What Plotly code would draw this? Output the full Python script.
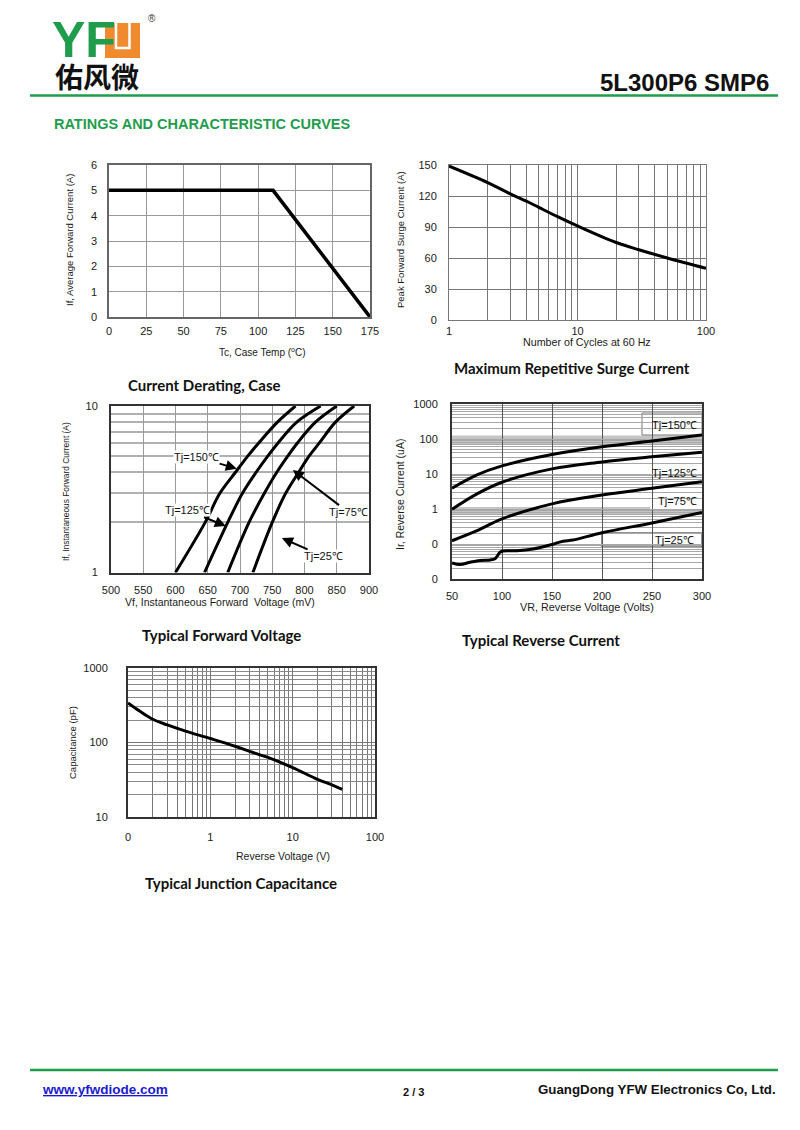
import math
import plotly.graph_objects as go

# page offset (the browser places the figure 8px from the top-left corner)
OFF = 8
FW, FH = 784, 1114
def px(x): return (x - OFF) / FW
def py(y): return 1 - (y - OFF) / FH

# ---------------- data ----------------
derate_temp = [0, 110, 175]
derate_current = [5, 5, 0]

surge_cycles = [1, 2, 3, 4, 5, 7, 10, 20, 30, 50, 100]
surge_current = [149, 133, 122, 115, 109, 100, 91, 75, 68, 60, 50]

fwd_current = [1, 2, 3, 4, 5, 6, 8, 10]
fwd_vf_150 = [600, 646, 669, 693, 712, 729, 758, 786]
fwd_vf_125 = [645, 681, 704, 725, 743, 759, 788, 825]
fwd_vf_75 = [681, 714, 738, 757, 774, 789, 817, 850]
fwd_vf_25 = [720, 750, 771, 791, 807, 823, 848, 877]

rev_voltage = [50, 75, 100, 150, 200, 250, 300]
rev_ir_150 = [3.9, 9.4, 17, 36, 60, 88, 130]
rev_ir_125 = [0.98, 2.7, 5.8, 14, 22, 31, 42]
rev_ir_75 = [0.124, 0.24, 0.52, 1.4, 2.5, 3.9, 6.0]
rev_voltage_25 = [50, 58, 68, 78, 88, 93, 98, 101, 115, 131, 150, 161, 171, 200, 250, 300]
rev_ir_25 = [0.029, 0.026, 0.030, 0.034, 0.035, 0.038, 0.058, 0.063, 0.064, 0.072,
             0.097, 0.12, 0.13, 0.21, 0.40, 0.79]

cap_voltage = [0.1, 0.14, 0.2, 0.3, 0.5, 1, 2, 3, 5, 10, 20, 30, 40]
cap_pf = [340, 262, 205, 172, 142, 113, 89, 76, 63, 46, 32, 27, 23.5]

derate_xticks = [0, 25, 50, 75, 100, 125, 150, 175]
derate_yticks = [0, 1, 2, 3, 4, 5, 6]
surge_xticks = [1, 10, 100]
surge_yticks = [0, 30, 60, 90, 120, 150]
fwd_xticks = [500, 550, 600, 650, 700, 750, 800, 850, 900]
fwd_yticks = [1, 10]
rev_xticks = [50, 100, 150, 200, 250, 300]
rev_yticks = [0.01, 0.1, 1, 10, 100, 1000]
rev_yticktext = ["0", "0", "1", "10", "100", "1000"]
cap_xticks = [0.1, 1, 10, 100]
cap_xticktext = ["0", "1", "10", "100"]
cap_yticks = [10, 100, 1000]

# ---------------- styling ----------------
ARIAL = "Liberation Sans, Arial, sans-serif"
TF = dict(family=ARIAL, size=11, color="#1a1a1a")
GREEN = "#1f9d4c"

def minor_log(lo, hi):
    return [k * 10 ** d for d in range(lo, hi) for k in range(2, 10)]

def ax(domain, anchor, **kw):
    d = dict(domain=domain, anchor=anchor, showline=True, mirror=True, automargin=False,
             linecolor="#333", linewidth=2, showgrid=True, gridcolor="#8a8a8a",
             gridwidth=1, zeroline=False, ticks="", tickfont=TF, fixedrange=True)
    d.update(kw)
    return d

fig = go.Figure()

def add(x, y, n, shape="spline", width=3):
    fig.add_trace(go.Scatter(x=x, y=y, xaxis="x%s" % n, yaxis="y%s" % n, mode="lines",
                             line=dict(color="black", width=width, shape=shape),
                             showlegend=False, hoverinfo="skip"))

add(derate_temp, derate_current, "", shape="linear", width=3.5)
add(surge_cycles, surge_current, 2)
add(fwd_vf_150, fwd_current, 3)
add(fwd_vf_125, fwd_current, 3)
add(fwd_vf_75, fwd_current, 3)
add(fwd_vf_25, fwd_current, 3)
add(rev_voltage, rev_ir_150, 4)
add(rev_voltage, rev_ir_125, 4)
add(rev_voltage, rev_ir_75, 4)
add(rev_voltage_25, rev_ir_25, 4)
add(cap_voltage, cap_pf, 5)

layout = dict(
    width=FW, height=FH, autosize=False,
    margin=dict(l=0, r=0, t=0, b=0, pad=0, autoexpand=False),
    paper_bgcolor="white", plot_bgcolor="white",
    showlegend=False,
    xaxis=ax([px(109), px(370)], "y", range=[0, 175], tickvals=derate_xticks,
             linecolor="#666", linewidth=1.5, gridcolor="#999", ticklabelstandoff=3),
    yaxis=ax([py(317), py(165)], "x", range=[0, 6], tickvals=derate_yticks,
             linecolor="#666", linewidth=1.5, gridcolor="#999", ticklabelstandoff=8),
    xaxis2=ax([px(449), px(706)], "y2", type="log", range=[0, 2], tickvals=surge_xticks,
              linecolor="#777", linewidth=1, gridcolor="#777", ticklabelstandoff=1,
              minor=dict(tickvals=minor_log(0, 2), showgrid=True, gridcolor="#777",
                         gridwidth=1, ticks="")),
    yaxis2=ax([py(320), py(165)], "x2", range=[0, 150], tickvals=surge_yticks,
              linecolor="#777", linewidth=1, gridcolor="#777", ticklabelstandoff=9),
    xaxis3=ax([px(111), px(369)], "y3", range=[500, 900], tickvals=fwd_xticks,
              gridcolor="#9a9a9a", ticklabelstandoff=6),
    yaxis3=ax([py(572.5), py(406)], "x3", type="log", range=[0, 1], tickvals=fwd_yticks,
              ticklabelstandoff=9,
              minor=dict(tickvals=minor_log(0, 1), showgrid=True, gridcolor="#b0b0b0",
                         gridwidth=2, ticks="")),
    xaxis4=ax([px(452), px(702)], "y4", range=[50, 300], tickvals=rev_xticks,
              gridcolor="#555", ticklabelstandoff=6),
    yaxis4=ax([py(579), py(404)], "x4", type="log", range=[-2, 3], tickvals=rev_yticks,
              ticktext=rev_yticktext, ticklabelstandoff=10, gridcolor="#a8a8a8",
              minor=dict(tickvals=minor_log(-2, 3), showgrid=True, gridcolor="#a8a8a8",
                         gridwidth=1, ticks="")),
    xaxis5=ax([px(128), px(375)], "y5", type="log", range=[-1, 2], tickvals=cap_xticks,
              ticktext=cap_xticktext, gridcolor="#777", ticklabelstandoff=9,
              minor=dict(tickvals=minor_log(-1, 2), showgrid=True, gridcolor="#777",
                         gridwidth=1, ticks="")),
    yaxis5=ax([py(817), py(668)], "x5", type="log", range=[1, 3], tickvals=cap_yticks,
              gridcolor="#777", ticklabelstandoff=16,
              minor=dict(tickvals=minor_log(1, 3), showgrid=True, gridcolor="#8a8a8a",
                         gridwidth=1, ticks="")),
)
fig.update_layout(**layout)

ann = []
shapes = []

def text(x, y, t, size=11, color="#1a1a1a", family=ARIAL, xanchor="center",
         yanchor="middle", angle=0, weight="normal", **kw):
    a = dict(x=px(x), y=py(y), xref="paper", yref="paper", text=t, showarrow=False,
             font=dict(family=family, size=size, color=color, weight=weight),
             xanchor=xanchor, yanchor=yanchor, textangle=angle)
    a.update(kw)
    ann.append(a)

# ---------------- header ----------------
text(51, 40, "YF", size=50, color=GREEN,
     family="Liberation Sans Narrow, Arial Narrow, Liberation Sans, Arial",
     xanchor="left", weight="bold", height=38, valign="middle", borderpad=0)
shapes.append(dict(type="rect", xref="paper", yref="paper", x0=px(105), x1=px(140),
                   y0=py(58), y1=py(23), fillcolor="#ef8a2e", line=dict(width=0)))
shapes.append(dict(type="path", xref="paper", yref="paper",
                   path="M %f %f L %f %f L %f %f L %f %f" % (px(116), py(23), px(116), py(48),
                                                         px(129.5), py(48), px(129.5), py(23)),
                   line=dict(color="white", width=2.5)))
text(152, 18, "®", size=10, color="#333")
text(97, 76, "佑风微", size=28, color="#111", family="Noto Sans CJK SC", weight="bold",
     height=30, valign="middle", borderpad=0)
text(771, 83, "5L300P6 SMP6", size=24, color="#111", xanchor="right", weight="bold")
shapes.append(dict(type="line", xref="paper", yref="paper", x0=px(30), x1=px(778),
                   y0=py(95.5), y1=py(95.5), line=dict(color=GREEN, width=2.5)))
text(52, 124, "RATINGS AND CHARACTERISTIC CURVES", size=14.5, color=GREEN,
     xanchor="left", weight="bold")

# ---------------- footer ----------------
shapes.append(dict(type="line", xref="paper", yref="paper", x0=px(30), x1=px(778),
                   y0=py(1070), y1=py(1070), line=dict(color=GREEN, width=2.5)))
text(40, 1089, "<u>www.yfwdiode.com</u>", size=13.5, color="#1a1acc", xanchor="left",
     weight="bold")
text(413, 1092, "2 / 3", size=11, color="#111", weight="bold")
text(778, 1089, "GuangDong YFW Electronics Co, Ltd.", size=13.3, color="#111",
     xanchor="right", weight="bold")

# ---------------- axis titles ----------------
text(262, 352, "Tc, Case Temp (<sup>o</sup>C)", size=10)
text(70, 240, "If, Average Forward Current (A)", size=9.5, angle=-90)
text(587, 342, "Number of Cycles at 60 Hz", size=10.7)
text(401, 240, "Peak Forward Surge Current (A)", size=9.5, angle=-90)
text(220, 602, "Vf, Instantaneous Forward  Voltage (mV)", size=10.5)
text(66, 492, "If, Instantaneous Forward Current (A)", size=8.4, angle=-90)
text(587, 607, "VR, Reverse Voltage (Volts)", size=10.8)
text(400, 495, "Ir, Reverse Current (uA)", size=10.5, angle=-90)
text(283, 856, "Reverse Voltage (V)", size=10.5)
text(73, 743, "Capacitance (pF)", size=9.5, angle=-90)

# ---------------- captions ----------------
CAP = "Lato, Open Sans, sans-serif"
text(204, 385, "Current Derating, Case", size=15, family=CAP, weight="bold", color="#111")
text(572, 368, "Maximum Repetitive Surge Current", size=15, family=CAP, weight="bold", color="#111")
text(221, 635, "Typical Forward Voltage", size=15, family=CAP, weight="bold", color="#111")
text(541, 640, "Typical Reverse Current", size=15, family=CAP, weight="bold", color="#111")
text(241, 883, "Typical Junction Capacitance", size=15, family=CAP, weight="bold", color="#111")

# ---------------- forward-voltage labels with arrows ----------------
L = math.log10

def alabel(xh, yh, xt, yt, t, n):
    ann.append(dict(x=xh, y=L(yh), ax=xt, ay=L(yt), xref="x%d" % n, yref="y%d" % n,
                    axref="x%d" % n, ayref="y%d" % n, text=t, showarrow=True,
                    arrowhead=2, arrowsize=1.1, arrowwidth=2, arrowcolor="black",
                    font=dict(family=ARIAL, size=11, color="#111"), bgcolor="white",
                    borderpad=0, standoff=0, startstandoff=1))

alabel(695, 4.2, 633, 4.95, "Tj=150℃", 3)
alabel(678, 1.9, 618, 2.36, "Tj=125℃", 3)
alabel(782, 4.13, 868, 2.3, "Tj=75℃", 3)
alabel(765, 1.61, 829, 1.25, "Tj=25℃", 3)

# ---------------- reverse-current decorations ----------------
def box(x0, x1, y0, y1, n, fill="white", border=None, bw=1):
    shapes.append(dict(type="rect", xref="x%d" % n, yref="y%d" % n, x0=x0, x1=x1,
                       y0=y0, y1=y1, fillcolor=fill, layer="below",
                       line=dict(width=bw if border else 0, color=border or fill)))

# dense grid bands seen just below the 100 and 1 decades
box(50, 300, 68, 125, 4, fill="#c4c4c4")
box(50, 300, 0.68, 1.15, 4, fill="#c4c4c4")
box(240, 300, 130, 553, 4, border="#777")
box(243, 300, 6.7, 18, 4)
box(248, 300, 0.94, 2.87, 4)
box(200, 300, 0.082, 0.206, 4, border="#222")

def rlabel(x, y, t):
    ann.append(dict(x=x, y=L(y), xref="x4", yref="y4", text=t, showarrow=False,
                    font=dict(family=ARIAL, size=11, color="#111")))

rlabel(272, 250, "Tj=150℃")
rlabel(272, 11, "Tj=125℃")
rlabel(275, 1.65, "Tj=75℃")
rlabel(272, 0.13, "Tj=25℃")

fig.update_layout(annotations=ann, shapes=shapes)
fig.write_html("out.html")
